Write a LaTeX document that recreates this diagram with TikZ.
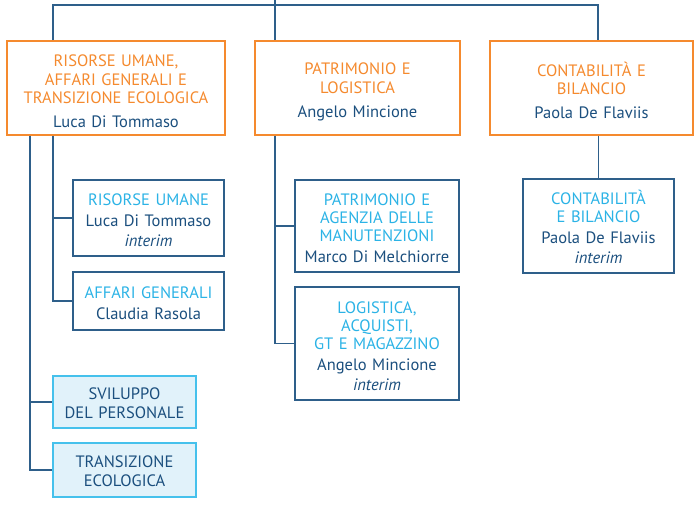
\documentclass[tikz,border=0pt]{standalone}
\usepackage{fontspec}
\setmainfont{PT Sans}
\usepackage{xcolor}
\definecolor{arancio}{HTML}{F58A2E}
\definecolor{blu}{HTML}{1B4F7E}
\definecolor{linea}{HTML}{2E5F8A}
\definecolor{ciano}{HTML}{2BB3E6}
\definecolor{celeste}{HTML}{E1F2FA}
\definecolor{bordociano}{HTML}{45C1EC}

\begin{document}
\begin{tikzpicture}[x=1pt,y=-1pt,font=\fontsize{16.5}{18}\selectfont,
    area/.style={draw=arancio,line width=1.6pt,align=center,text=blu,fill=white,inner sep=0pt,execute at begin node=\rule{0pt}{19pt}},
    ufficio/.style={draw=linea,line width=1.2pt,align=center,text=blu,fill=white,inner sep=0pt,execute at begin node=\rule{0pt}{17pt}},
    servizio/.style={draw=bordociano,line width=1.2pt,fill=celeste,align=center,text=blu,inner sep=0pt,execute at begin node=\rule{0pt}{14pt}},
    conn/.style={draw=linea,line width=1.1pt}]
    \useasboundingbox (0,0) rectangle (694,507);

    \coordinate (cima) at (275,0);
    \coordinate (sx) at (53,5);
    \coordinate (dx) at (598,5);
    \coordinate (ramoA) at (30,0);

    \node[area,minimum width=218pt,minimum height=94pt,text width=214pt] (A) at (116,88)
        {\textcolor{arancio}{RISORSE UMANE,\\[0.5pt]AFFARI GENERALI E\\[0.5pt]TRANSIZIONE ECOLOGICA}\\[6pt]Luca Di Tommaso};
    \node[area,minimum width=205pt,minimum height=94pt,text width=198pt] (B) at (357.5,88)
        {\textcolor{arancio}{PATRIMONIO E\\[0.5pt]LOGISTICA}\\[6pt]Angelo Mincione};
    \node[area,minimum width=203pt,minimum height=94pt,text width=196pt] (C) at (591.5,88)
        {\textcolor{arancio}{CONTABILITÀ E\\[0.5pt]BILANCIO}\\[6pt]Paola De Flaviis};

    \node[ufficio,minimum width=151pt,minimum height=76pt,text width=147pt] (RU) at (148.5,218)
        {\textcolor{ciano}{RISORSE UMANE}\\[3pt]Luca Di Tommaso\\[2pt]\textit{interim}};
    \node[ufficio,minimum width=151pt,minimum height=58pt,text width=147pt] (AG) at (148.5,301)
        {\textcolor{ciano}{AFFARI GENERALI}\\[3pt]Claudia Rasola};
    \node[servizio,minimum width=143pt,minimum height=52pt,text width=139pt] (SV) at (124.5,402)
        {SVILUPPO\\[1pt]DEL PERSONALE};
    \node[servizio,minimum width=143pt,minimum height=54pt,text width=139pt] (TE) at (124.5,470)
        {TRANSIZIONE\\[1pt]ECOLOGICA};

    \node[ufficio,minimum width=164pt,minimum height=92pt,text width=160pt] (PA) at (377,226)
        {\textcolor{ciano}{PATRIMONIO E\\AGENZIA DELLE\\MANUTENZIONI}\\[3pt]Marco Di Melchiorre};
    \node[ufficio,minimum width=164pt,minimum height=113pt,text width=160pt] (LO) at (377,343.5)
        {\textcolor{ciano}{LOGISTICA,\\ACQUISTI,\\GT E MAGAZZINO}\\[3pt]Angelo Mincione\\[2pt]\textit{interim}};

    \node[ufficio,minimum width=151pt,minimum height=94pt,text width=147pt] (CB) at (598.5,226)
        {\textcolor{ciano}{CONTABILITÀ\\E BILANCIO}\\[3pt]Paola De Flaviis\\[2pt]\textit{interim}};

    \draw[conn] (cima) -- (cima |- B.north);
    \draw[conn] (sx |- A.north) -- (sx) -- (dx) -- (dx |- C.north);
    \draw[conn] (A.south -| sx) |- (RU.west);
    \draw[conn] (A.south -| sx) |- (AG.west);
    \draw[conn] (A.south -| ramoA) |- (SV.west);
    \draw[conn] (A.south -| ramoA) |- (TE.west);
    \draw[conn] (B.south -| cima) |- (PA.west);
    \draw[conn] (B.south -| cima) |- (LO.west);
    \draw[conn] (C.south -| CB.north) -- (CB.north);
\end{tikzpicture}
\end{document}
